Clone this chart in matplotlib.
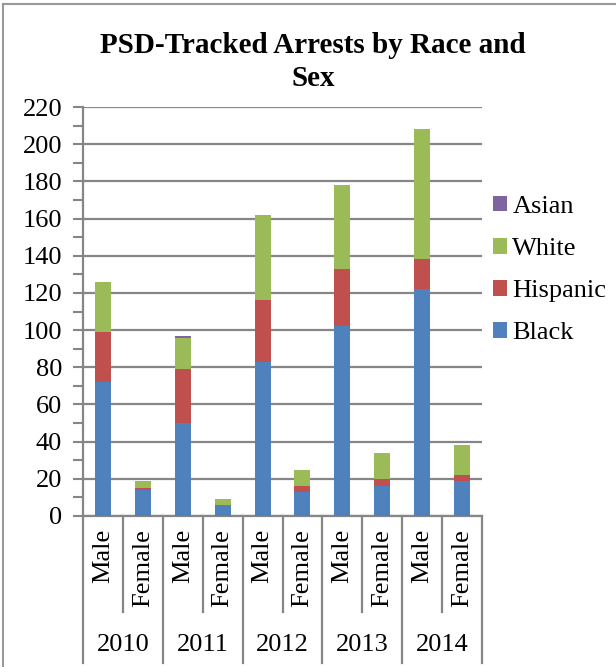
import matplotlib.pyplot as plt
from matplotlib.patches import Patch
from matplotlib.lines import Line2D
import numpy as np

SERIF = 'Liberation Serif'

years = ['2010', '2011', '2012', '2013', '2014']
sexes = ['Male', 'Female']
black = [72, 14, 50, 6, 83, 13, 102, 16, 122, 19]
hispanic = [27, 1, 29, 0, 33, 3, 31, 4, 16, 3]
white = [27, 4, 17, 3, 46, 9, 45, 14, 70, 16]
asian = [0, 0, 1, 0, 0, 0, 0, 0, 0, 0]

series = [('Black', black, '#4F81BD'),
          ('Hispanic', hispanic, '#C0504D'),
          ('White', white, '#9BBB59'),
          ('Asian', asian, '#8064A2')]

W, H = 616, 667
fig = plt.figure(figsize=(W / 100, H / 100), dpi=100)
ax = fig.add_axes([83 / W, (H - 516) / H, (482 - 83) / W, (516 - 107) / H])

x = np.arange(len(black))
bottom = np.zeros(len(x))
for name, vals, color in series:
    ax.bar(x, vals, width=0.4, bottom=bottom, color=color, edgecolor='none', zorder=3)
    bottom += np.array(vals)

grey = '#868686'
ax.set_xlim(-0.5, len(x) - 0.5)
ax.set_ylim(0, 220)
ax.set_yticks(range(0, 221, 20))
ax.set_yticks(range(10, 220, 20), minor=True)
ax.yaxis.grid(True, color=grey, linewidth=1.6, zorder=0)
ax.tick_params(axis='y', which='both', direction='out', length=7, width=1.5,
               color=grey, pad=8)
ax.set_yticklabels([str(v) for v in range(0, 221, 20)], family=SERIF, fontsize=19)
ax.set_xticks([])
for s in ['top', 'right']:
    ax.spines[s].set_visible(False)
for s in ['left', 'bottom']:
    ax.spines[s].set_color(grey)
    ax.spines[s].set_linewidth(1.6)

# two-level category axis: sex labels, then year labels
tr = ax.get_xaxis_transform()
for i in range(len(x) + 1):
    low = -0.36 if i % 2 == 0 else -0.235
    ax.add_line(Line2D([i - 0.5, i - 0.5], [0, low], transform=tr, color=grey,
                       linewidth=1.6, clip_on=False))
for i in x:
    ax.text(i, -0.032, sexes[i % 2], transform=tr, rotation=90, ha='center', va='top',
            family=SERIF, fontsize=19)
for j, yr in enumerate(years):
    ax.text(2 * j + 0.5, -0.315, yr, transform=tr, ha='center', va='center',
            family=SERIF, fontsize=19)

fig.text(313 / W, 1 - 62 / H, 'PSD-Tracked Arrests by Race and\nSex', ha='center',
         va='center', linespacing=1.3, family=SERIF, fontsize=21, fontweight='bold')

handles = [Patch(facecolor=c, edgecolor='none', label=n) for n, _, c in series[::-1]]
fig.legend(handles=handles, loc='upper left', bbox_to_anchor=(482 / W, 1 - 185 / H),
           frameon=False, prop={'family': SERIF, 'size': 19}, handlelength=0.55,
           handleheight=0.55, handletextpad=0.2, labelspacing=0.75, borderaxespad=0)

# chart frame
fig.add_artist(Line2D([3 / W, 3 / W], [0, 1 - 4 / H], transform=fig.transFigure,
                      color='#999999', linewidth=1.5))
fig.add_artist(Line2D([3 / W, 1], [1 - 4 / H, 1 - 4 / H], transform=fig.transFigure,
                      color='#999999', linewidth=1.5))

fig.savefig('out.png', dpi=100, facecolor='white')
